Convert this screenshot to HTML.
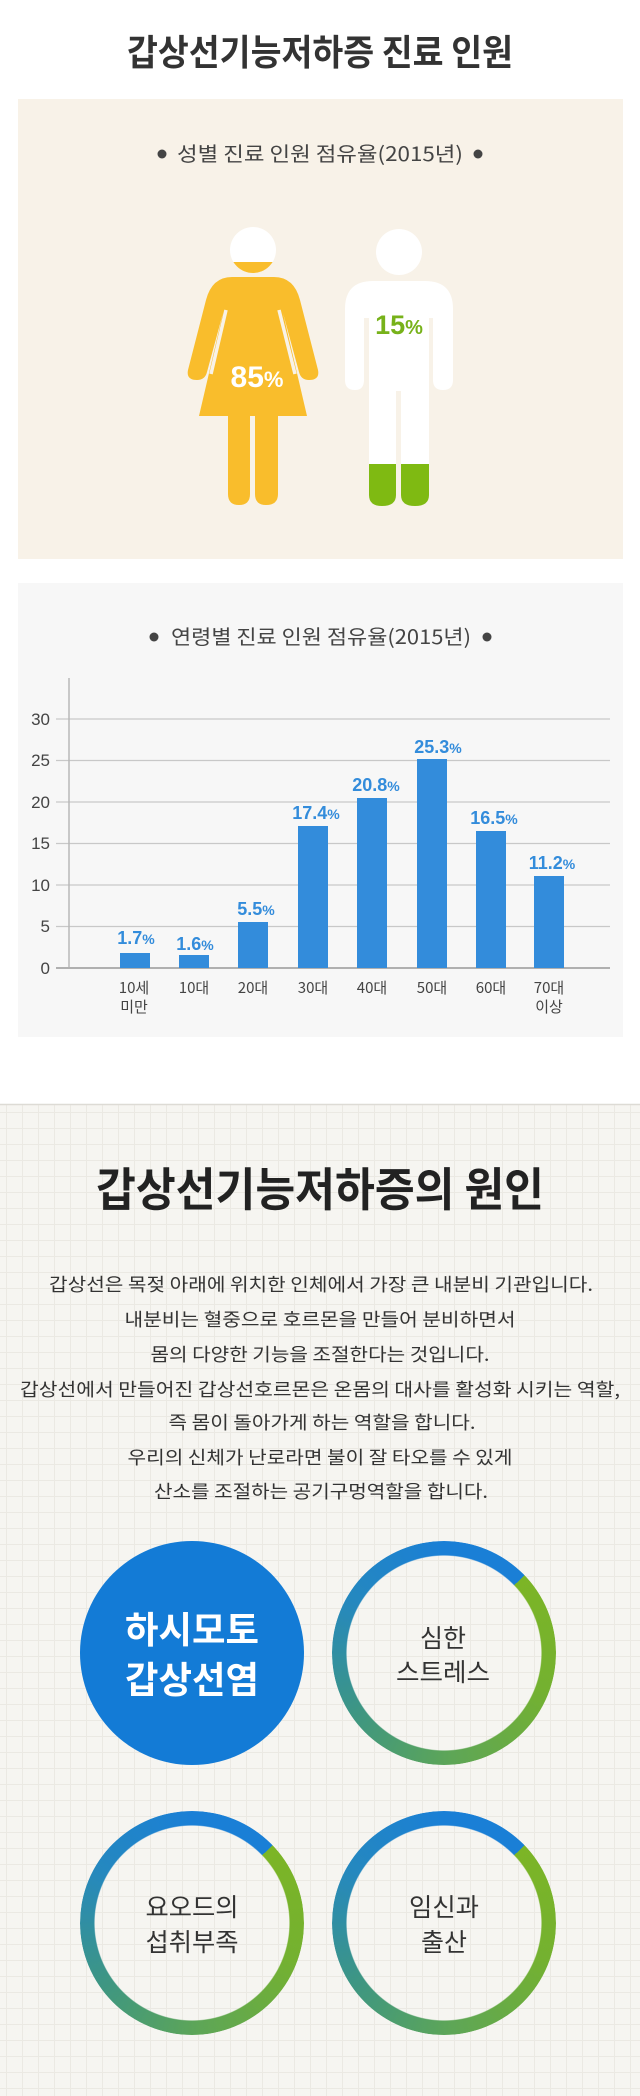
<!DOCTYPE html>
<html><head><meta charset="utf-8"><style>
html,body{margin:0;padding:0;background:#fff;}
svg{display:block;}
text{font-family:"Liberation Sans","Noto Sans CJK KR",sans-serif;}
.k{font-family:"Noto Sans CJK KR","Liberation Sans",sans-serif;}
</style></head><body>
<svg width="640" height="2096" viewBox="0 0 640 2096" xmlns="http://www.w3.org/2000/svg">
<defs>
<pattern id="grid" width="16" height="16" patternUnits="userSpaceOnUse" x="6" y="8">
<rect width="16" height="16" fill="#f6f5f1"/>
<path d="M0 0.5H16M0.5 0V16" stroke="#ebe9e3" stroke-width="1"/>
</pattern>
<clipPath id="headclip"><rect x="220" y="262" width="70" height="20"/></clipPath>
<clipPath id="legclip"><rect x="360" y="464" width="80" height="50"/></clipPath>
</defs>
<rect width="640" height="2096" fill="#fff"/>
<text class="k" x="320" y="65" text-anchor="middle" font-size="36" font-weight="bold" fill="#333" textLength="386" lengthAdjust="spacingAndGlyphs">갑상선기능저하증 진료 인원</text>

<!-- panel 1 -->
<rect x="18" y="99" width="605" height="460" fill="#f8f2e8"/>
<circle cx="162" cy="154" r="4.5" fill="#444"/>
<circle cx="478" cy="154" r="4.5" fill="#444"/>
<text class="k" x="320" y="161" text-anchor="middle" font-size="20" fill="#444" textLength="286" lengthAdjust="spacingAndGlyphs">성별 진료 인원 점유율(2015년)</text>

<!-- woman -->
<circle cx="253" cy="250" r="23" fill="#fff"/>
<circle cx="253" cy="250" r="23" fill="#f9bd2c" clip-path="url(#headclip)"/>
<path d="M232 277 H274 Q294 277 300 300 L318 370 Q320 380 309 380 Q301 380 299 372 L283 313 L307 416 H199 L223 313 L207 372 Q205 380 197 380 Q186 380 188 370 L206 300 Q212 277 232 277 Z" fill="#f9bd2c"/>
<path d="M228 416 H250 V494 Q250 505 239 505 Q228 505 228 494 Z" fill="#f9bd2c"/>
<path d="M255 416 H278 V494 Q278 505 266 505 Q255 505 255 494 Z" fill="#f9bd2c"/>
<path d="M226 310 L211 374 M279 310 L295 374" stroke="#f8f2e8" stroke-width="3.5"/>
<text x="257" y="387" text-anchor="middle" font-size="30" font-weight="bold" fill="#fff">85<tspan font-size="22">%</tspan></text>

<!-- man -->
<ellipse cx="399" cy="252" rx="23" ry="23" fill="#fff"/>
<path d="M373 281 H425 Q453 281 453 309 V380 Q453 390 443 390 Q433 390 433 380 V318 H429 V495 Q429 506 415 506 Q401 506 401 495 V391 H396 V495 Q396 506 382 506 Q369 506 369 495 V318 H364 V380 Q364 390 355 390 Q345 390 345 380 V309 Q345 281 373 281 Z" fill="#fff"/>
<g clip-path="url(#legclip)">
<path d="M369 440 H396 V495 Q396 506 382 506 Q369 506 369 495 Z" fill="#7fba12"/>
<path d="M401 440 H429 V495 Q429 506 415 506 Q401 506 401 495 Z" fill="#7fba12"/>
</g>
<text x="399" y="334" text-anchor="middle" font-size="27" font-weight="bold" fill="#77b21a">15<tspan font-size="20">%</tspan></text>

<!-- panel 2 -->
<rect x="18" y="583" width="605" height="454" fill="#f7f7f7"/>
<circle cx="154" cy="637" r="4.5" fill="#444"/>
<circle cx="487" cy="637" r="4.5" fill="#444"/>
<text class="k" x="321" y="644" text-anchor="middle" font-size="20" fill="#444" textLength="300" lengthAdjust="spacingAndGlyphs">연령별 진료 인원 점유율(2015년)</text>

<g stroke="#c8c8c8" stroke-width="1.3">
<line x1="56" y1="719" x2="610" y2="719"/>
<line x1="56" y1="760.5" x2="610" y2="760.5"/>
<line x1="56" y1="802" x2="610" y2="802"/>
<line x1="56" y1="843.5" x2="610" y2="843.5"/>
<line x1="56" y1="885" x2="610" y2="885"/>
<line x1="56" y1="926.5" x2="610" y2="926.5"/>
</g>
<line x1="69" y1="678" x2="69" y2="968" stroke="#b8b8b8" stroke-width="1.5"/>
<line x1="56" y1="968" x2="610" y2="968" stroke="#b0b0b0" stroke-width="2"/>
<g font-size="17" fill="#444" text-anchor="end">
<text x="50" y="725">30</text><text x="50" y="766">25</text><text x="50" y="808">20</text>
<text x="50" y="849">15</text><text x="50" y="891">10</text><text x="50" y="932">5</text><text x="50" y="974">0</text>
</g>
<g fill="#338cdb">
<rect x="120" y="953" width="30" height="15"/>
<rect x="179" y="955" width="30" height="13"/>
<rect x="238" y="922" width="30" height="46"/>
<rect x="298" y="826" width="30" height="142"/>
<rect x="357" y="798" width="30" height="170"/>
<rect x="417" y="759" width="30" height="209"/>
<rect x="476" y="831" width="30" height="137"/>
<rect x="534" y="876" width="30" height="92"/>
</g>
<g font-size="18" font-weight="bold" fill="#338cdb" text-anchor="middle">
<text x="136" y="944">1.7<tspan font-size="14">%</tspan></text>
<text x="195" y="950">1.6<tspan font-size="14">%</tspan></text>
<text x="256" y="915">5.5<tspan font-size="14">%</tspan></text>
<text x="316" y="819">17.4<tspan font-size="14">%</tspan></text>
<text x="376" y="791">20.8<tspan font-size="14">%</tspan></text>
<text x="438" y="753">25.3<tspan font-size="14">%</tspan></text>
<text x="494" y="824">16.5<tspan font-size="14">%</tspan></text>
<text x="552" y="869">11.2<tspan font-size="14">%</tspan></text>
</g>
<g class="k" font-size="15" fill="#444" text-anchor="middle">
<text class="k" x="134" y="993">10세</text><text class="k" x="134" y="1012">미만</text>
<text class="k" x="194" y="993">10대</text>
<text class="k" x="253" y="993">20대</text>
<text class="k" x="313" y="993">30대</text>
<text class="k" x="372" y="993">40대</text>
<text class="k" x="432" y="993">50대</text>
<text class="k" x="491" y="993">60대</text>
<text class="k" x="549" y="993">70대</text><text class="k" x="549" y="1012">이상</text>
</g>

<!-- bottom section -->
<rect x="0" y="1104" width="640" height="992" fill="url(#grid)"/>
<line x1="0" y1="1104.5" x2="640" y2="1104.5" stroke="#dddbd5" stroke-width="1.5"/>
<text class="k" x="320" y="1206" text-anchor="middle" font-size="46" font-weight="bold" fill="#222" textLength="448" lengthAdjust="spacingAndGlyphs">갑상선기능저하증의 원인</text>
<g class="k" font-size="18" fill="#333" text-anchor="middle">
<text class="k" x="321" y="1291" textLength="544" lengthAdjust="spacingAndGlyphs">갑상선은 목젖 아래에 위치한 인체에서 가장 큰 내분비 기관입니다.</text>
<text class="k" x="320" y="1326" textLength="391" lengthAdjust="spacingAndGlyphs">내분비는 혈중으로 호르몬을 만들어 분비하면서</text>
<text class="k" x="320" y="1361" textLength="339" lengthAdjust="spacingAndGlyphs">몸의 다양한 기능을 조절한다는 것입니다.</text>
<text class="k" x="320" y="1396" textLength="600" lengthAdjust="spacingAndGlyphs">갑상선에서 만들어진  갑상선호르몬은 온몸의 대사를 활성화 시키는 역할,</text>
<text class="k" x="322" y="1429" textLength="307" lengthAdjust="spacingAndGlyphs">즉 몸이 돌아가게 하는 역할을 합니다.</text>
<text class="k" x="320" y="1464" textLength="385" lengthAdjust="spacingAndGlyphs">우리의 신체가 난로라면 불이 잘 타오를 수 있게</text>
<text class="k" x="321" y="1498" textLength="334" lengthAdjust="spacingAndGlyphs">산소를 조절하는 공기구멍역할을 합니다.</text>
</g>
</svg>
<div style="position:absolute;left:80px;top:1541px;width:224px;height:224px;border-radius:50%;background:#137bd6;"></div>
<div style="position:absolute;left:332px;top:1541px;width:224px;height:224px;border-radius:50%;background:conic-gradient(#1a7fd6 0deg,#1a7fd6 46deg,#7cb526 46deg,#74b130 110deg,#5ea656 175deg,#3e9682 235deg,#2588bf 300deg,#1a7fd6 360deg);-webkit-mask:radial-gradient(circle,transparent 97px,#000 98px);mask:radial-gradient(circle,transparent 97px,#000 98px);"></div>
<div style="position:absolute;left:80px;top:1811px;width:224px;height:224px;border-radius:50%;background:conic-gradient(#1a7fd6 0deg,#1a7fd6 46deg,#7cb526 46deg,#74b130 110deg,#5ea656 175deg,#3e9682 235deg,#2588bf 300deg,#1a7fd6 360deg);-webkit-mask:radial-gradient(circle,transparent 97px,#000 98px);mask:radial-gradient(circle,transparent 97px,#000 98px);"></div>
<div style="position:absolute;left:332px;top:1811px;width:224px;height:224px;border-radius:50%;background:conic-gradient(#1a7fd6 0deg,#1a7fd6 46deg,#7cb526 46deg,#74b130 110deg,#5ea656 175deg,#3e9682 235deg,#2588bf 300deg,#1a7fd6 360deg);-webkit-mask:radial-gradient(circle,transparent 97px,#000 98px);mask:radial-gradient(circle,transparent 97px,#000 98px);"></div>
<svg width="640" height="2096" viewBox="0 0 640 2096" style="position:absolute;left:0;top:0;" xmlns="http://www.w3.org/2000/svg">
<g class="k" text-anchor="middle">
<text class="k" x="192" y="1643" font-size="37" font-weight="bold" fill="#fff" textLength="134" lengthAdjust="spacingAndGlyphs">하시모토</text>
<text class="k" x="192" y="1693" font-size="37" font-weight="bold" fill="#fff" textLength="134" lengthAdjust="spacingAndGlyphs">갑상선염</text>
<text class="k" x="443" y="1647" font-size="25" fill="#333" textLength="46" lengthAdjust="spacingAndGlyphs">심한</text>
<text class="k" x="443" y="1681" font-size="25" fill="#333" textLength="94" lengthAdjust="spacingAndGlyphs">스트레스</text>
<text class="k" x="192" y="1916" font-size="25" fill="#333" textLength="93" lengthAdjust="spacingAndGlyphs">요오드의</text>
<text class="k" x="192" y="1951" font-size="25" fill="#333" textLength="93" lengthAdjust="spacingAndGlyphs">섭취부족</text>
<text class="k" x="444" y="1916" font-size="25" fill="#333" textLength="70" lengthAdjust="spacingAndGlyphs">임신과</text>
<text class="k" x="444" y="1951" font-size="25" fill="#333" textLength="46" lengthAdjust="spacingAndGlyphs">출산</text>
</g>
</svg>
</body></html>
